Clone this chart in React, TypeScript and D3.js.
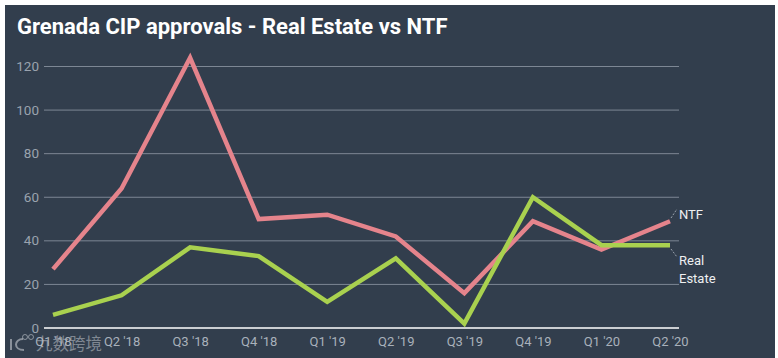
import React from "react";
import * as d3 from "d3";

const quarters = ["Q1 '18","Q2 '18","Q3 '18","Q4 '18","Q1 '19","Q2 '19","Q3 '19","Q4 '19","Q1 '20","Q2 '20"];
const ntf = [27,64,124,50,52,42,16,49,36,49];
const realEstate = [6,15,37,33,12,32,2,60,38,38];
const yTicks = [0,20,40,60,80,100,120];
const FONT = "Roboto, sans-serif";

export default function App() {
  const x = d3.scalePoint<string>().domain(quarters).range([53, 670]);
  const y = d3.scaleLinear().domain([0, 120]).range([328, 66.5]);
  const line = d3.line<number>().x((_, i) => x(quarters[i])!).y(d => y(d));
  return (
    <svg width={778} height={358} style={{ position: "absolute", left: 0, top: 0, display: "block" }}>
      <rect width={778} height={358} fill="#fff" />
      <rect x={5} y={5} width={770} height={353} fill="#323e4d" />
      <text x={17} y={33.5} fontFamily={FONT} fontWeight={700} fontSize={22} fill="#fff">Grenada CIP approvals - Real Estate vs NTF</text>
      {yTicks.map(t => (
        <g key={t}>
          {t > 0 && <line x1={44} x2={679} y1={y(t)} y2={y(t)} stroke="#7d8794" strokeWidth={1} />}
          <text x={39} y={y(t) + 4.5} textAnchor="end" fontFamily={FONT} fontSize={13.5} fill="#9aa3ae">{t}</text>
        </g>
      ))}
      <line x1={44} x2={679} y1={y(0)} y2={y(0)} stroke="#fff" strokeWidth={1.5} />
      {quarters.map(q => (
        <text key={q} x={x(q)! + 0.5} y={345.5} textAnchor="middle" fontFamily={FONT} fontSize={13} fill="#a9b1bb">{q}</text>
      ))}
      <path d={line(ntf)!} fill="none" stroke="#e5848c" strokeWidth={4.5} strokeLinejoin="miter" />
      <path d={line(realEstate)!} fill="none" stroke="#a9d14f" strokeWidth={4.5} strokeLinejoin="miter" />
      <line x1={671} y1={218} x2={677} y2={209} stroke="#9aa3ae" strokeWidth={1} strokeDasharray="2 1.5" />
      <line x1={671} y1={249} x2={677} y2={257} stroke="#9aa3ae" strokeWidth={1} strokeDasharray="2 1.5" />
      <text x={679} y={218.5} fontFamily={FONT} fontSize={13} fill="#eef0f2">NTF</text>
      <text x={679} y={265} fontFamily={FONT} fontSize={13} fill="#eef0f2">Real</text>
      <text x={679} y={283} fontFamily={FONT} fontSize={13} fill="#eef0f2">Estate</text>
      <text x={36} y={350} fontFamily="'Noto Sans CJK SC', sans-serif" fontSize={16.5} fill="#c3c8ce" fillOpacity={0.55}>九数跨境</text>
      <g fill="none" stroke="#c3c8ce" strokeOpacity={0.6} strokeWidth={2}>
        <path d="M11 339 V350 M23 339 C14 339 13 350 24 350" />
        <circle cx={25} cy={337} r={2.5} strokeWidth={1} />
        <circle cx={31} cy={337} r={2.5} strokeWidth={1} />
      </g>
    </svg>
  );
}
